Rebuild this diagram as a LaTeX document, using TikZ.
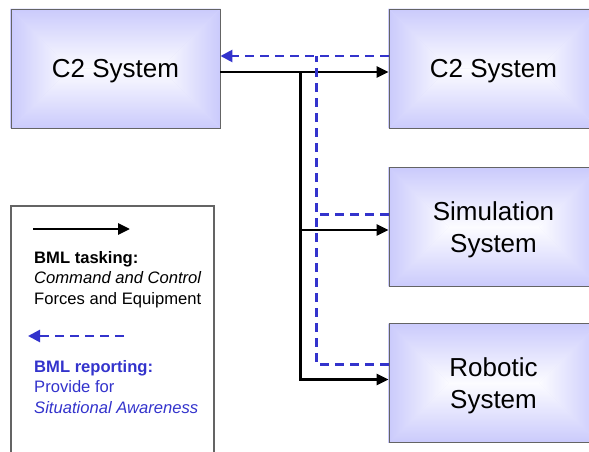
\documentclass[tikz,border=0pt]{standalone}
\usepackage{fontspec}
\setmainfont{Liberation Sans}
\usetikzlibrary{arrows.meta,backgrounds,calc}

\definecolor{boxedge}{RGB}{202,202,252}
\definecolor{boxmid}{RGB}{252,252,255}
\definecolor{rptblue}{RGB}{51,51,204}
\definecolor{framegray}{RGB}{100,100,100}

\tikzset{
  sysbox/.style={draw=framegray, line width=0.9pt, rectangle,
    minimum width=209pt, minimum height=119pt, inner sep=0pt,
    text depth=0pt, align=center, font=\fontsize{26}{32}\selectfont},
  legendbox/.style={draw=framegray, line width=1.1pt, rectangle,
    minimum width=203pt, minimum height=270pt, inner sep=0pt},
  taskline/.style={line width=2.8pt, line join=miter},
  task/.style={taskline, -{Triangle[length=12pt,width=11pt]}},
  reportline/.style={rptblue, line width=2.6pt, dash pattern=on 9pt off 6pt},
  report/.style={reportline, -{Triangle[length=12pt,width=12pt]}},
  legendtext/.style={anchor=base west, align=left, inner sep=0pt,
    font=\fontsize{16.6}{20.5}\selectfont},
}

% rectangular "from centre" gradient filling a system box
\newcommand\rectshade[1]{%
  \fill[boxmid!40!boxedge] (#1.north west) rectangle (#1.south east);
  \shade[top color=boxedge, bottom color=boxmid]
    (#1.north west) -- (#1.north east) -- ([xshift=45pt]#1.center) -- ([xshift=-45pt]#1.center) -- cycle;
  \shade[top color=boxmid, bottom color=boxedge]
    (#1.south west) -- (#1.south east) -- ([xshift=45pt]#1.center) -- ([xshift=-45pt]#1.center) -- cycle;
  \shade[left color=boxedge, right color=boxmid]
    (#1.north west) -- (#1.south west) -- ([xshift=-45pt]#1.center) -- cycle;
  \shade[left color=boxmid, right color=boxedge]
    (#1.north east) -- (#1.south east) -- ([xshift=45pt]#1.center) -- cycle;
}

\begin{document}
\begin{tikzpicture}[x=1pt, y=-1pt]
  \useasboundingbox (0,0) rectangle (589,452);

  % systems
  \node[sysbox] (c2a)   at (115.5,68.5) {C2 System};
  \node[sysbox] (c2b)   at (493.5,68.5) {C2 System};
  \node[sysbox] (sim)   at (493.5,227) {Simulation\\System};
  \node[sysbox] (robot) at (493.5,383) {Robotic\\System};

  \begin{scope}[on background layer]
    \rectshade{c2a}
    \rectshade{c2b}
    \rectshade{sim}
    \rectshade{robot}
  \end{scope}

  % junctions of the tasking and reporting trunks
  \coordinate (tj1) at (300.5,72);
  \coordinate (tj2) at (300.5,230);
  \coordinate (tj3) at (300.5,379.5);
  \coordinate (rj1) at (316.5,56);
  \coordinate (rj2) at (316.5,214.5);
  \coordinate (rj3) at (316.5,364.5);

  % BML tasking
  \draw[task] (c2a.east |- tj1) -- (c2b.west |- tj1);
  \draw[task] (tj1) -- (tj3) -- (robot.west |- tj3);
  \draw[task] (tj2) -- (sim.west |- tj2);

  % BML reporting
  \draw[report] (c2b.west |- rj1) -- (c2a.east |- rj1);
  \draw[reportline] (robot.west |- rj3) -- (rj3) -- (rj1);
  \draw[reportline] (sim.west |- rj2) -- (rj2);

  % legend
  \node[legendbox] (legend) at (112.5,341) {};
  \coordinate (lt1) at (33,229);
  \coordinate (lt2) at (130,229);
  \coordinate (lr1) at (124,336);
  \coordinate (lr2) at (28,336);
  \draw[task] (lt1) -- (lt2);
  \draw[report] (lr1) -- (lr2);
  \node[legendtext] (tasktext) at (34,304.3)
    {\textbf{BML tasking:}\\\textit{Command and Control}\\Forces and Equipment};
  \node[legendtext, text=rptblue] (reporttext) at (34,413.3)
    {\textbf{BML reporting:}\\Provide for\\\textit{Situational Awareness}};
\end{tikzpicture}
\end{document}
